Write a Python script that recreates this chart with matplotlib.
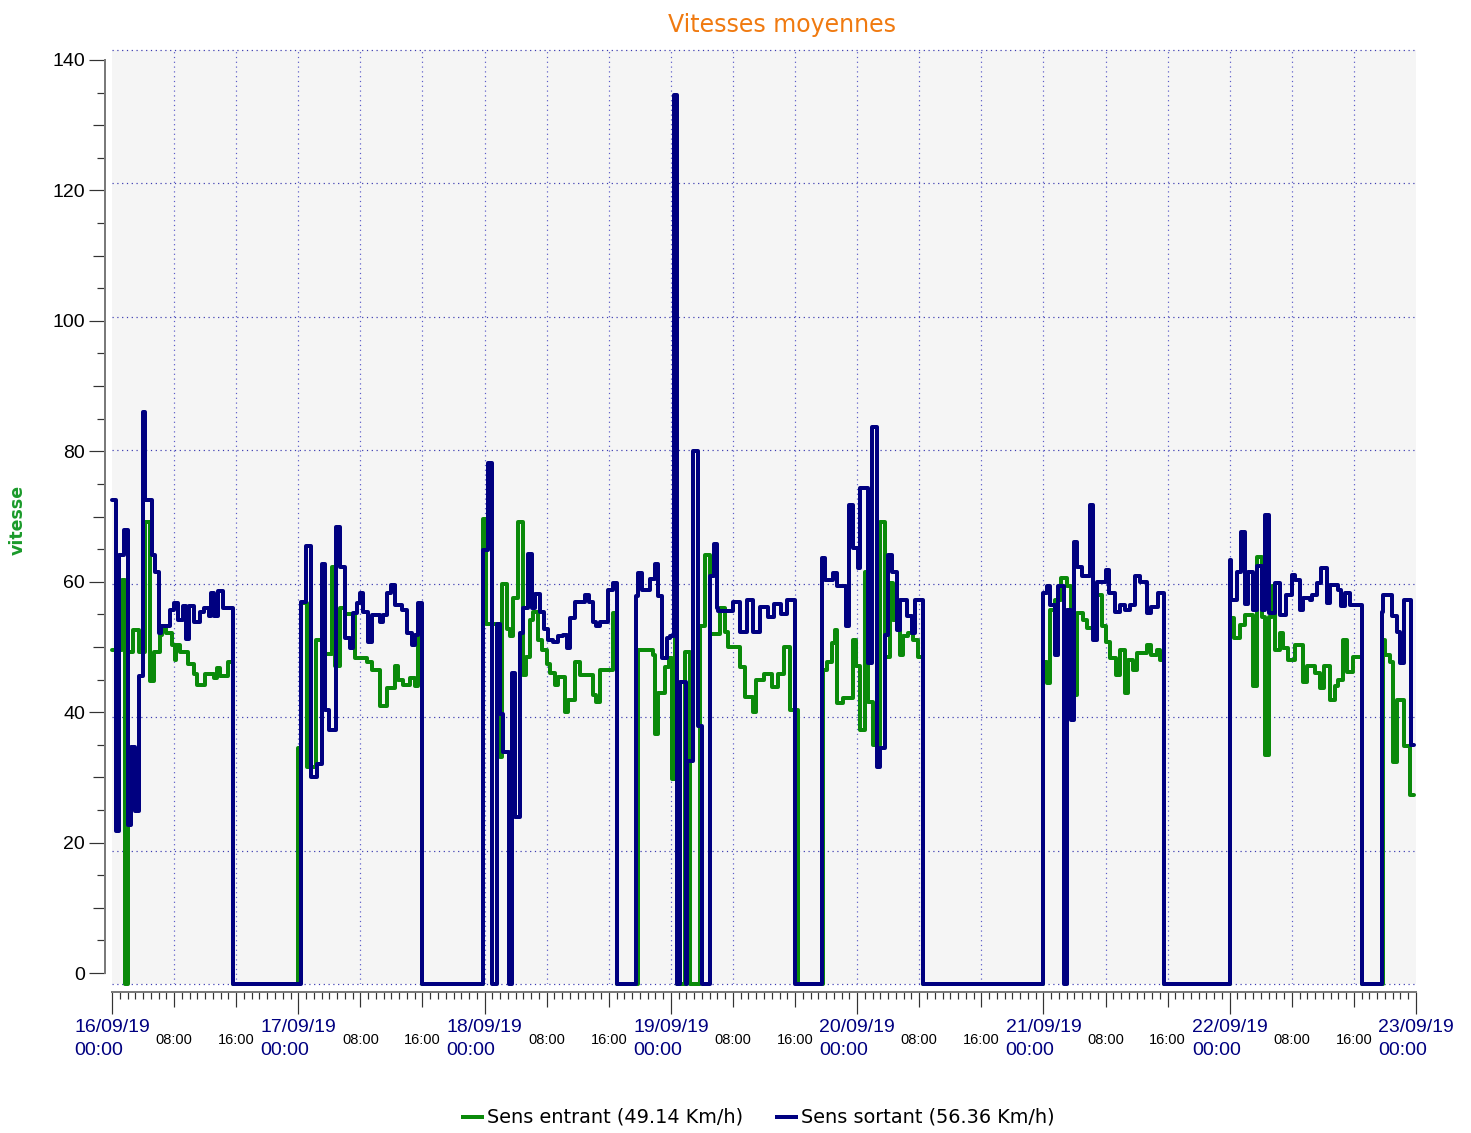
import matplotlib

matplotlib.use("Agg")
import matplotlib.pyplot as plt  # noqa: E402
from matplotlib.lines import Line2D  # noqa: E402

# hours since 16/09/19 00:00 where the mean speed changes, and the new value (km/h)
entrant_h = [
    0.0, 1.3, 1.7, 2.1, 2.7, 3.5, 4.3, 4.9, 5.4, 6.2, 6.4, 7.0, 7.7, 8.1, 8.3, 8.8,
    9.8, 10.5, 11.0, 12.0, 13.1, 13.5, 13.9, 14.9, 15.6,
    24.0, 24.3, 25.1, 26.3, 27.0, 28.3, 28.7, 29.4, 30.0, 31.3, 32.8, 33.45, 34.5,
    35.4, 36.45, 36.9, 37.5, 38.4, 39.0, 39.46, 39.9,
    47.84, 48.2, 49.7, 50.0, 50.3, 50.85, 51.3, 51.7, 52.35, 53.0, 53.4, 53.85,
    54.3, 54.9, 55.35, 56.0, 56.4, 57.1, 57.5, 58.4, 58.8, 59.6, 60.3, 62.0, 62.4,
    62.9, 64.6, 65.0,
    67.8, 69.7, 70.0, 70.3, 71.2, 71.7, 72.1, 72.5, 72.8, 73.8, 74.5, 75.7, 76.4,
    77.0, 78.3, 79.0, 79.4, 80.9, 81.5, 82.6, 83.0, 84.0, 85.0, 85.8, 86.6, 87.3, 88.4,
    91.6, 92.1, 92.7, 93.1, 93.4, 94.2, 95.5, 95.9, 96.4, 97.0, 97.4, 98.1, 98.9,
    99.6, 100.2, 100.6, 101.5, 101.9, 102.6, 103.2, 103.9, 104.5,
    120.0, 120.4, 120.9, 121.5, 122.3, 123.0, 123.6, 124.3, 125.1, 125.6, 126.9,
    127.5, 128.1, 128.6, 129.4, 129.9, 130.5, 130.9, 131.6, 132.1, 133.3, 133.9,
    134.6, 135.0, 135.5,
    144.0, 144.5, 145.3, 146.0, 147.0, 147.5, 148.1, 148.5, 149.0, 149.4, 149.8,
    150.5, 150.9, 151.5, 152.4, 153.5, 153.9, 155.0, 155.6, 156.1, 156.9, 157.6,
    158.0, 158.6, 159.1, 159.9, 161.0,
    163.8, 164.0, 164.6, 165.1, 165.6, 166.5, 167.2, 167.7,
]
entrant_kmh = [
    50.0, 60.6, 0, 49.7, 53.1, 49.7, 69.2, 45.4, 49.7, 52.3, 53.7, 52.6, 50.8, 48.5, 50.8, 49.7,
    48.0, 46.5, 44.8, 46.5, 45.9, 47.4, 46.2, 48.3, 0,
    35.4, 57.1, 32.5, 51.6, 49.5, 62.5, 47.6, 56.3, 55.5, 48.8, 48.3, 47.1, 41.6,
    44.4, 47.6, 45.6, 44.8, 45.8, 44.6, 52.1, 0,
    69.7, 54.0, 40.0, 34.0, 60.0, 53.2, 52.2, 57.9, 69.3, 46.3, 49.0, 54.5,
    55.8, 51.6, 50.0, 47.9, 46.6, 44.8, 46.0, 40.8, 42.6, 48.3, 46.3, 43.3, 42.3,
    47.1, 55.6, 0,
    50.1, 49.3, 37.4, 43.6, 47.5, 48.9, 30.8, 52.4, 0, 49.8, 0, 53.7, 64.3,
    52.4, 56.4, 52.8, 50.5, 47.5, 43.0, 40.8, 45.5, 46.5, 44.5, 46.5, 50.5, 41.0, 0,
    47.1, 48.3, 51.1, 53.1, 42.1, 42.8, 51.6, 47.6, 38.1, 61.8, 42.3, 35.8, 69.3,
    49.0, 60.1, 54.6, 49.3, 52.1, 52.6, 51.6, 49.0, 0,
    48.3, 45.1, 56.0, 57.5, 60.8, 59.6, 43.3, 55.6, 54.6, 53.3, 58.3,
    53.6, 51.3, 48.8, 46.3, 50.1, 43.6, 48.6, 47.1, 49.6, 50.8, 49.3,
    50.0, 48.6, 0,
    54.8, 51.8, 53.8, 55.3, 44.6, 64.0, 55.0, 34.3, 55.0, 59.6, 50.1,
    52.6, 50.3, 48.6, 50.8, 45.3, 47.6, 46.6, 44.3, 47.6, 42.6, 44.6,
    45.6, 51.6, 46.8, 49.0, 0,
    51.6, 49.3, 48.3, 33.3, 42.6, 35.6, 28.3, 28.3,
]

sortant_h = [
    0.0, 0.5, 0.9, 1.5, 2.0, 2.4, 3.0, 3.5, 3.95, 4.3, 5.1, 5.6, 6.1, 6.3, 7.5, 8.0,
    8.5, 9.1, 9.5, 9.95, 10.5, 11.3, 11.85, 12.5, 12.8, 13.2, 13.6, 14.3, 15.6,
    24.4, 25.0, 25.6, 26.4, 27.1, 27.5, 28.0, 28.9, 29.4, 30.0, 30.7, 31.0, 31.6,
    31.95, 32.4, 33.0, 33.45, 34.5, 34.95, 35.4, 36.0, 36.45, 37.3, 37.96, 38.6,
    39.0, 39.46, 39.9,
    47.84, 48.5, 48.95, 49.55, 50.0, 50.4, 51.1, 51.5, 51.9, 52.55, 53.0, 53.6,
    54.05, 54.5, 55.1, 55.6, 56.2, 56.8, 57.5, 58.1, 58.6, 59.0, 59.6, 60.9, 61.5,
    62.0, 62.4, 62.9, 63.9, 64.5, 65.0,
    67.5, 67.8, 68.3, 69.3, 69.9, 70.4, 70.9, 71.5, 71.9, 72.4, 72.8, 73.2, 73.9,
    74.1, 74.9, 75.5, 76.0, 77.0, 77.5, 77.9, 78.1, 80.0, 80.9, 81.8, 82.6, 83.5,
    84.5, 85.3, 86.2, 87.0, 88.0,
    91.5, 91.9, 92.9, 93.4, 94.6, 94.9, 95.5, 96.1, 96.4, 97.4, 97.9, 98.5, 98.9,
    99.6, 100.0, 100.45, 101.1, 101.5, 102.4, 103.1, 103.4, 104.5,
    120.0, 120.4, 120.85, 121.5, 121.9, 122.6, 123.0, 123.6, 124.0, 124.3, 125.0,
    126.0, 126.4, 126.9, 128.1, 128.4, 129.2, 129.9, 130.5, 131.2, 131.8, 132.4,
    133.4, 133.9, 134.7, 135.5,
    144.0, 144.2, 144.9, 145.5, 146.0, 146.4, 147.0, 147.5, 148.1, 148.5, 149.0,
    149.8, 150.5, 151.3, 152.0, 152.4, 153.0, 153.5, 154.3, 154.6, 155.2, 155.8,
    156.5, 156.9, 158.0, 158.4, 158.9, 159.5, 161.0,
    163.6, 163.8, 164.9, 165.5, 165.9, 166.4, 167.4, 167.7,
]
sortant_kmh = [
    72.5, 23.0, 64.3, 68.0, 23.9, 35.5, 25.9, 46.2, 85.8, 72.5, 64.3, 61.8, 52.6, 53.7, 56.0, 57.1,
    54.6, 56.6, 51.7, 56.6, 54.3, 55.7, 56.3, 55.2, 58.6, 55.2, 58.9, 56.3, 0,
    57.3, 65.6, 31.0, 33.0, 63.0, 41.0, 38.0, 68.5, 62.5, 51.8, 50.4, 55.6, 57.1,
    58.6, 55.8, 51.3, 55.3, 54.3, 55.3, 58.6, 59.8, 56.8, 56.0, 52.6, 50.8,
    52.3, 57.1, 0,
    65.0, 78.1, 0, 54.0, 40.5, 34.8, 0, 46.6, 25.0, 52.6, 56.4, 64.5,
    56.4, 58.5, 55.8, 53.2, 51.6, 51.3, 52.1, 52.3, 50.3, 54.8, 57.3, 58.3, 57.3,
    54.3, 53.6, 54.3, 59.1, 60.1, 0,
    58.1, 61.6, 59.0, 60.7, 62.9, 58.1, 48.9, 51.9, 52.2, 133.3, 0, 45.3, 0,
    33.4, 79.9, 38.7, 0, 61.2, 66.0, 56.4, 55.9, 57.3, 52.8, 57.6, 52.8, 56.5,
    55.0, 57.0, 55.5, 57.6, 0,
    63.8, 60.6, 61.6, 59.6, 53.6, 71.8, 65.3, 62.4, 74.3, 48.1, 83.5, 32.6, 35.3,
    52.3, 64.3, 61.8, 53.1, 57.6, 55.1, 52.6, 57.6, 0,
    58.6, 59.6, 56.8, 49.3, 59.6, 0, 56.1, 39.6, 66.3, 62.5, 61.1,
    71.8, 51.6, 60.3, 62.1, 58.6, 55.8, 56.8, 56.1, 56.8, 61.1, 60.3,
    55.6, 56.5, 58.6, 0,
    63.6, 57.6, 61.8, 67.8, 57.0, 61.8, 56.0, 62.6, 56.0, 70.3, 55.6,
    60.1, 55.3, 58.3, 61.3, 60.6, 56.1, 57.8, 57.6, 58.3, 60.1, 62.3,
    57.1, 59.8, 59.1, 56.6, 58.6, 56.8, 0,
    55.8, 58.3, 55.1, 52.8, 48.1, 57.6, 35.8, 35.8,
]

day_labels = ["16/09/19", "17/09/19", "18/09/19", "19/09/19",
              "20/09/19", "21/09/19", "22/09/19", "23/09/19"]
legend_labels = ["Sens entrant (49.14 Km/h)", "Sens sortant (56.36 Km/h)"]

GREEN = "#0a8a0a"
NAVY = "#000080"
GRID = "#3a3ab0"
AXFONT = ["Liberation Sans", "DejaVu Sans"]

W, H = 1471, 1133
PT = 0.72  # points per pixel at dpi 100

fig = plt.figure(figsize=(W / 100, H / 100), dpi=100)
ax = fig.add_axes([112 / W, (H - 984) / H, 1304 / W, 934 / H])
ax.set_facecolor("#f5f5f5")
ax.set_xlim(0, 168)
ax.set_ylim(0, 140)
for side in ("left", "top", "right"):
    ax.spines[side].set_visible(False)
ax.spines["bottom"].set_position(("outward", 6))
ax.spines["bottom"].set_color("#7a7a7a")
ax.spines["bottom"].set_linewidth(2 * PT)

# dotted grid
for y in range(0, 141, 20):
    ax.axhline(y, color=GRID, lw=1.2 * PT, ls=(0, (1, 3)), zorder=1, clip_on=False)
for h in range(8, 168, 8):
    ax.axvline(h, color="#5a5ac8", lw=1.2 * PT, ls=(0, (1, 3)), zorder=1)

ax.step(entrant_h, entrant_kmh, where="post", color=GREEN, lw=4 * PT,
        solid_joinstyle="round", solid_capstyle="round", clip_on=False, zorder=3)
ax.step(sortant_h, sortant_kmh, where="post", color=NAVY, lw=4 * PT,
        solid_joinstyle="round", solid_capstyle="round", clip_on=False, zorder=4)

# x ticks: hourly, 8-hourly and daily marks of different length
ax.set_yticks([])
ax.set_xticks(range(0, 169, 8))
ax.set_xticks(range(0, 169, 1), minor=True)
ax.tick_params(axis="x", which="major", length=15 * PT, width=1.2 * PT,
               color="#333333", labelbottom=False)
ax.tick_params(axis="x", which="minor", length=7 * PT, width=1.2 * PT, color="#333333")
for loc, tick in zip(ax.xaxis.get_majorticklocs(), ax.xaxis.get_major_ticks()):
    if loc % 24 == 0:
        tick.tick1line.set_markersize(22 * PT)

xtr = ax.get_xaxis_transform()
for d, lab in enumerate(day_labels):
    ax.text(24 * d, (984 - 1039) / 934, lab + "\n00:00", transform=xtr,
            ha="center", va="center", multialignment="left", linespacing=1.42,
            color=NAVY, fontsize=14, family=AXFONT)
    if d < 7:
        for hh, txt in ((8, "08:00"), (16, "16:00")):
            ax.text(24 * d + hh, (984 - 1040) / 934, txt, transform=xtr,
                    ha="center", va="center", color="black", fontsize=10.5,
                    family=AXFONT)

# y scale drawn as a separate axis, as in the original
yax = fig.add_axes([105 / W, (H - 973) / H, 100 / W, 913 / H])
yax.set_facecolor("none")
yax.set_ylim(0, 140)
yax.set_xticks([])
for side in ("top", "right", "bottom"):
    yax.spines[side].set_visible(False)
yax.spines["left"].set_color("#7a7a7a")
yax.spines["left"].set_linewidth(2 * PT)
yax.set_yticks(range(0, 141, 20))
yax.set_yticks(range(0, 141, 5), minor=True)
yax.tick_params(axis="y", which="major", length=16 * PT, width=1.2 * PT,
                color="#333333", pad=4 * PT, labelsize=14)
yax.tick_params(axis="y", which="minor", length=8 * PT, width=1.2 * PT, color="#333333")
for lbl in yax.get_yticklabels():
    lbl.set_family(AXFONT)
for loc, tick in zip(yax.yaxis.get_minorticklocs(), yax.yaxis.get_minor_ticks()):
    if loc % 10 == 0:
        tick.tick1line.set_markersize(12 * PT)

fig.text(18 / W, 1 - 520 / H, "vitesse", rotation=90, color="#1a9a2a",
         fontsize=12.5, fontweight="bold", ha="center", va="center")
fig.text(782 / W, 1 - 25 / H, "Vitesses moyennes", color="#f07a10",
         fontsize=17, ha="center", va="center")

# legend
for (x0, x1, xt), color, lab in zip(((463, 482, 487), (777, 796, 801)),
                                    (GREEN, NAVY), legend_labels):
    yl = 1 - 1117 / H
    fig.add_artist(Line2D([x0 / W, x1 / W], [yl, yl], color=color, lw=4 * PT))
    fig.text(xt / W, yl, lab, fontsize=13.9, ha="left", va="center", color="black")

fig.savefig("out.png", dpi=100)
